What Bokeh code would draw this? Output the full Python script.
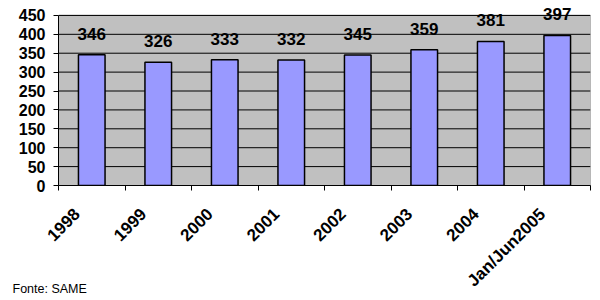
import math
from bokeh.plotting import figure
from bokeh.layouts import column, row
from bokeh.models import FixedTicker, Range1d, LabelSet, ColumnDataSource
from bokeh.core.properties import value
from bokeh.embed import file_html
from bokeh.resources import INLINE

categories = ["1998", "1999", "2000", "2001", "2002", "2003", "2004", "Jan/Jun2005"]
values = [346, 326, 333, 332, 345, 359, 381, 397]
y_ticks = [0, 50, 100, 150, 200, 250, 300, 350, 400, 450]
source_note = "Fonte: SAME"

n = len(categories)
xs = [i + 0.5 for i in range(n)]
y_max = y_ticks[-1]
src = ColumnDataSource(dict(x=xs, top=values, lbl=[str(v) for v in values]))

FONT = "Liberation Sans"
TOP_PAD = 15
BOTTOM = 114
LEFT = 58
H = 300
frame_h = H - BOTTOM
y_top = y_max * frame_h / (frame_h - TOP_PAD)

p = figure(width=600, height=H, output_backend="svg", toolbar_location=None,
           x_range=Range1d(0, n), y_range=Range1d(0, y_top),
           min_border_left=LEFT, min_border_right=10, min_border_top=0,
           min_border_bottom=BOTTOM)
p.background_fill_color = "white"
p.border_fill_color = "white"
p.outline_line_color = None
p.grid.visible = False

# gray plot area
p.quad(left=[0], right=[n], bottom=[0], top=[y_max], fill_color="#C0C0C0",
       line_color="#808080", line_width=1)
# gridlines
p.segment(x0=[0] * len(y_ticks), x1=[n] * len(y_ticks), y0=y_ticks, y1=y_ticks,
          line_color="black", line_width=1)

p.yaxis.ticker = FixedTicker(ticks=y_ticks)
p.yaxis.bounds = (0, y_max)
p.yaxis.minor_tick_line_color = None
p.yaxis.major_tick_out = 5
p.yaxis.major_tick_in = 0
p.yaxis.major_label_standoff = 8
p.yaxis.major_label_text_font = FONT
p.yaxis.major_label_text_font_style = "bold"
p.yaxis.major_label_text_font_size = "16px"
p.yaxis.major_label_text_color = "black"
p.yaxis.axis_line_color = "black"

label_ticks = [x - 0.22 for x in xs]
p.xaxis.ticker = FixedTicker(ticks=label_ticks, minor_ticks=list(range(n + 1)))
p.xaxis.major_label_overrides = {t: c for t, c in zip(label_ticks, categories)}
p.xaxis.major_tick_line_color = None
p.xaxis.major_tick_out = 0
p.xaxis.major_tick_in = 0
p.xaxis.minor_tick_line_color = "black"
p.xaxis.minor_tick_out = 5
p.xaxis.minor_tick_in = 0
p.xaxis.major_label_orientation = math.pi / 4
p.xaxis.major_label_standoff = 21
p.xaxis.major_label_text_font = FONT
p.xaxis.major_label_text_font_style = "bold"
p.xaxis.major_label_text_font_size = "17px"
p.xaxis.major_label_text_color = "black"
p.xaxis.axis_line_color = "black"

p.vbar(x="x", top="top", width=0.4, source=src, fill_color="#9999FF",
       line_color="black", line_width=1.5)

labels = LabelSet(x="x", y="top", text="lbl", source=src, y_offset=15,
                  text_align="center", text_baseline="alphabetic",
                  text_font=value(FONT), text_font_style="bold",
                  text_font_size="17px", text_color="black")
p.add_layout(labels)

# footnote, drawn in a small transparent svg figure overlaid on the bottom-left
NOTE_H = 20
f = figure(width=110, height=NOTE_H, output_backend="svg", toolbar_location=None,
           x_range=Range1d(0, 1), y_range=Range1d(0, 1),
           x_axis_type=None, y_axis_type=None, min_border=0)
f.outline_line_color = None
f.grid.visible = False
f.background_fill_alpha = 0
f.border_fill_alpha = 0
f.text(x=[0], y=[0.5], text=[source_note], text_font=value(FONT),
       text_font_size="12.5px", text_baseline="middle", text_align="left",
       text_color="black")

note_row = row(f, margin=(-NOTE_H - 2, 0, 0, 12))
layout = column(p, note_row, spacing=0)
open("out.html", "w").write(file_html(layout, INLINE))
